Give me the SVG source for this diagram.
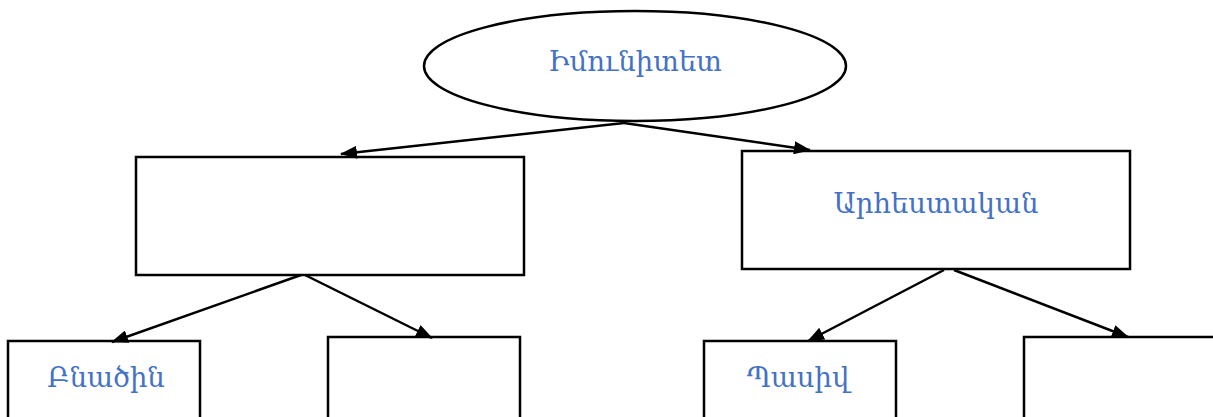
<svg xmlns="http://www.w3.org/2000/svg" width="1213" height="417" viewBox="0 0 1213 417">
<style>
.s{fill:#fff;stroke:#000;stroke-width:2.5}
.t{font-family:"DejaVu Serif","Noto Sans",serif;font-size:27.5px;fill:#4472C4;text-anchor:middle}
.c{stroke:#000;stroke-width:2.5;fill:none;marker-end:url(#a)}
</style>
<defs>
<marker id="a" markerWidth="17" markerHeight="13" refX="16" refY="6.5" orient="auto" markerUnits="userSpaceOnUse" viewBox="0 0 17 13">
<path d="M0,0 L17,6.5 L0,13 z" fill="#000"/>
</marker>
</defs>
<rect width="1213" height="417" fill="#fff"/>
<g id="n-root"><ellipse class="s" cx="635" cy="66" rx="211" ry="55"/><text class="t" x="635" y="71">Իմունիտետ</text></g>
<g id="n-left"><rect class="s" x="136" y="157" width="388" height="118"/></g>
<g id="n-right"><rect class="s" x="742" y="151" width="388" height="118"/><text class="t" x="936" y="213">Արհեստական</text></g>
<g id="n-b1"><rect class="s" x="8" y="341" width="192" height="90"/><text class="t" x="106" y="387">Բնածին</text></g>
<g id="n-b2"><rect class="s" x="328" y="337" width="192" height="90"/></g>
<g id="n-b3"><rect class="s" x="704" y="341" width="192" height="90"/><text class="t" x="798" y="387">Պասիվ</text></g>
<g id="n-b4"><rect class="s" x="1024" y="337" width="200" height="90"/></g>
<g id="connectors">
<line class="c" x1="624" y1="123" x2="341" y2="154"/>
<line class="c" x1="624" y1="123" x2="810" y2="150"/>
<line class="c" x1="301" y1="275" x2="112" y2="342"/>
<line class="c" x1="305" y1="275" x2="432" y2="338"/>
<line class="c" x1="944" y1="270" x2="808" y2="341"/>
<line class="c" x1="954" y1="270" x2="1128" y2="337"/>
</g>
</svg>
